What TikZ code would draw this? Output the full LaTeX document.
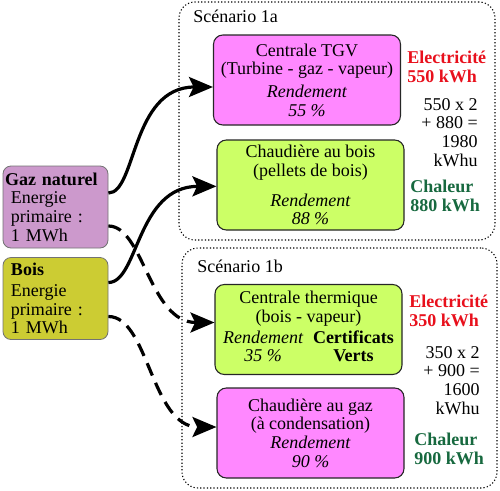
\documentclass[tikz,border=0pt]{standalone}
\usepackage{fontspec}
\setmainfont{Liberation Serif}
\usetikzlibrary{arrows.meta}
\setlength{\parindent}{0pt}
\newcommand{\diagfont}{\fontsize{13.5}{14}\selectfont}
\definecolor{gazmauve}{HTML}{CC99CC}
\definecolor{boisolive}{HTML}{CCCC33}
\definecolor{roseclair}{HTML}{FF88FF}
\definecolor{vertclair}{HTML}{CCFF66}
\definecolor{rougeelec}{HTML}{E8101C}
\definecolor{vertchaleur}{HTML}{17693F}
\begin{document}
\begin{tikzpicture}[x=0.75pt,y=-0.75pt,font=\diagfont,
        box/.style={draw=black!85, line width=0.8pt, rounded corners=7pt, align=center,
            minimum width=140.25pt, minimum height=67.5pt, inner sep=0pt},
        source/.style={draw=black!55, line width=0.6pt, rounded corners=6pt, align=left,
            text width=66.75pt, inner xsep=6pt, minimum height=61.5pt},
        scenario/.style={draw, line width=0.8pt, dash pattern=on 0.9pt off 1.6pt,
            rounded corners=12pt, inner sep=0pt},
        elec/.style={font=\diagfont\bfseries, text=rougeelec, align=left, inner sep=0pt},
        chaleur/.style={font=\diagfont\bfseries, text=vertchaleur, align=left, inner sep=0pt},
        bilan/.style={align=right, inner sep=0pt},
        flow/.style={-{Stealth[length=18pt,width=15pt,inset=3.5pt]}, line width=2.4pt},
        flowdash/.style={flow, dash pattern=on 10pt off 6pt}]
    \useasboundingbox (0,0) rectangle (500,490);

    %draw the two scenario frames
    \node[scenario, minimum width=237pt, minimum height=178.5pt] (sc1a) at (337,121) {};
    \node[scenario, minimum width=236.25pt, minimum height=180pt] (sc1b) at (339.5,368) {};
    \node[anchor=base west, inner sep=0pt] (lab1a) at (193,22) {Scénario 1a};
    \node[anchor=base west, inner sep=0pt] (lab1b) at (197,272) {Scénario 1b};

    %primary energy sources
    \node[source, fill=gazmauve] (gaz) at (55.5,207) {\hspace*{-4.5pt}\textbf{Gaz naturel}\\Energie\\primaire :\\1 MWh};
    \node[source, fill=boisolive] (bois) at (55.5,298.5) {\textbf{Bois}\\[2pt]Energie\\primaire :\\1 MWh};

    % scenario 1a
    \node[box, fill=roseclair] (tgv) at (307,80) {Centrale TGV\\(Turbine - gaz - vapeur)\\[3pt]\textit{Rendement}\\\textit{55 \%}};
    \node[box, fill=vertclair] (boisch) at (310.5,185) {Chaudière au bois\\(pellets de bois)\\[8.5pt]\textit{Rendement}\\\textit{88 \%}};
    \node[elec, anchor=north west] (elec1a) at (407,51) {Electricité\\550 kWh};
    \node[bilan, anchor=north east] (bilan1a) at (478,98) {550 x 2\\+ 880 =\\1980\\kWhu};
    \node[chaleur, anchor=north west] (chal1a) at (410,180) {Chaleur\\880 kWh};

    % scenario 1b
    \node[box, fill=vertclair] (thermique) at (308.5,329.5) {Centrale thermique\\(bois - vapeur)\\[1.5pt]%
        \begin{tabular}[t]{@{}c@{\hspace{7.5pt}}c@{}}\itshape Rendement & \bfseries Certificats\\ \itshape 35 \% & \bfseries Verts\end{tabular}};
    \node[box, fill=roseclair] (gazch) at (310.5,433) {Chaudière au gaz\\(à condensation)\\\textit{Rendement}\\\textit{90 \%}};
    \node[elec, anchor=north west] (elec1b) at (409,295) {Electricité\\350 kWh};
    \node[bilan, anchor=north east] (bilan1b) at (480,346) {350 x 2\\+ 900 =\\1600\\kWhu};
    \node[chaleur, anchor=north west] (chal1b) at (414,433) {Chaleur\\900 kWh};

    %draw the flows
    \draw[flow] ([yshift=10.5pt]gaz.east) .. controls +(28,0) and +(-82,0) .. ([yshift=-5.25pt]tgv.west);
    \draw[flow] ([yshift=12pt]bois.east) .. controls +(30,0) and +(-80,0) .. ([yshift=-1pt]boisch.west);
    \draw[flowdash] ([yshift=-14.25pt]gaz.east) .. controls +(35,0) and +(-65,0) .. ([yshift=5.25pt]thermique.west);
    \draw[flowdash] ([yshift=-13.5pt]bois.east) .. controls +(40,0) and +(-65,0) .. ([yshift=4.5pt]gazch.west);
\end{tikzpicture}
\end{document}
